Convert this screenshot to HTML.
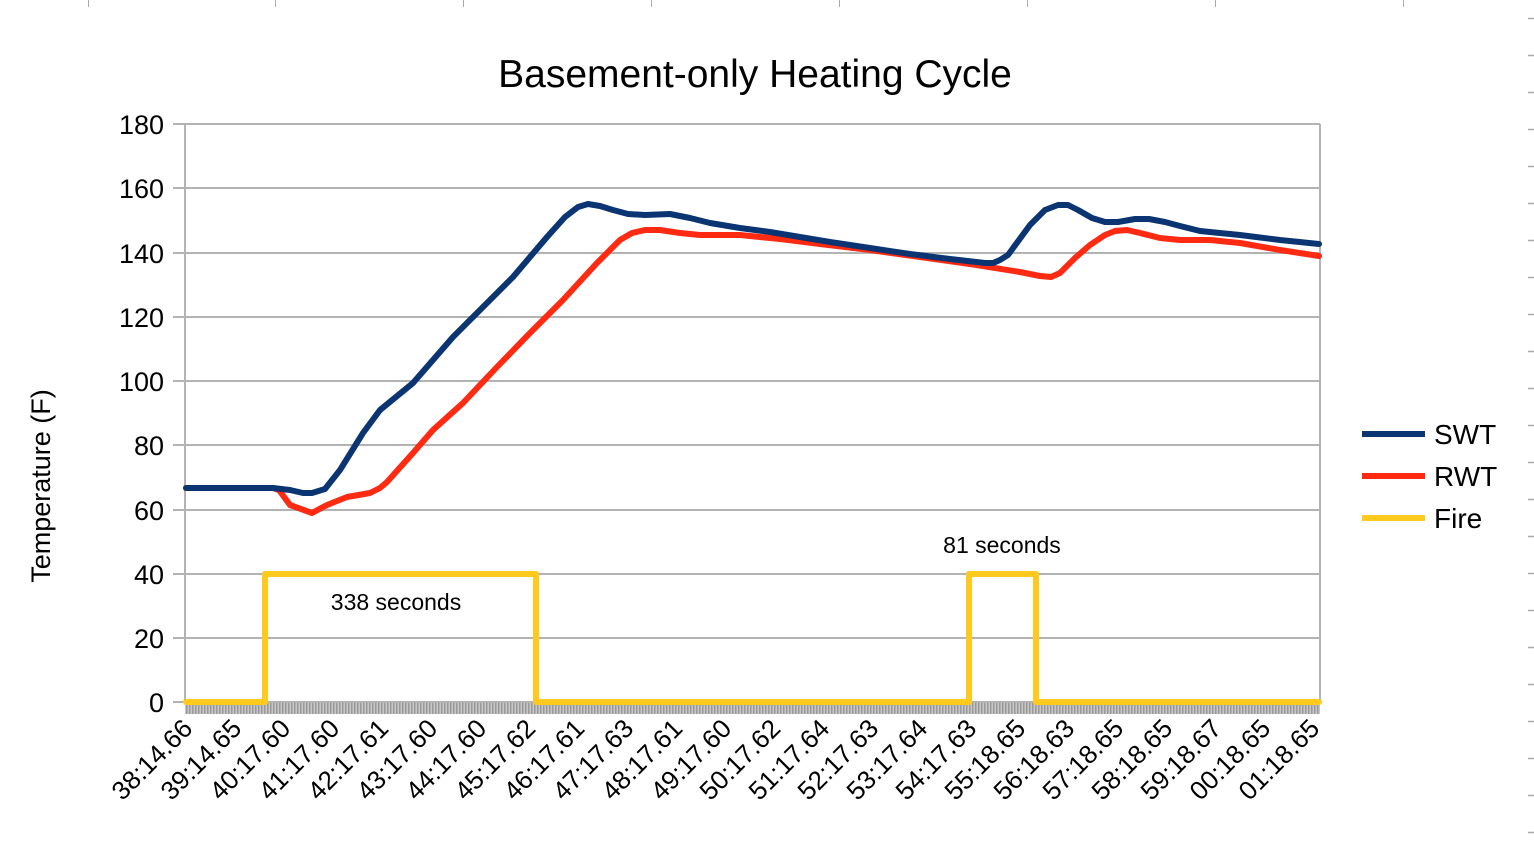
<!DOCTYPE html>
<html><head><meta charset="utf-8"><style>
body{margin:0;background:#fff;}
svg{display:block;font-family:"Liberation Sans",sans-serif;}
</style></head><body>
<svg width="1534" height="856" viewBox="0 0 1534 856" xmlns="http://www.w3.org/2000/svg">
<defs>
<pattern id="h" width="3" height="12" patternUnits="userSpaceOnUse"><rect width="3" height="12" fill="#c8c8c8"/><rect width="1.5" height="12" fill="#999"/></pattern>
</defs>
<g stroke="#aaa" stroke-width="1">
<line x1="88.5" y1="0" x2="88.5" y2="7"/><line x1="275.5" y1="0" x2="275.5" y2="7"/><line x1="463.5" y1="0" x2="463.5" y2="7"/><line x1="651.5" y1="0" x2="651.5" y2="7"/><line x1="839.5" y1="0" x2="839.5" y2="7"/><line x1="1027.5" y1="0" x2="1027.5" y2="7"/><line x1="1215.5" y1="0" x2="1215.5" y2="7"/><line x1="1403.5" y1="0" x2="1403.5" y2="7"/>
</g>
<g stroke="#b3b3b3" stroke-width="2">
<line x1="173" y1="124" x2="1320" y2="124"/><line x1="173" y1="188" x2="1320" y2="188"/><line x1="173" y1="253" x2="1320" y2="253"/><line x1="173" y1="317" x2="1320" y2="317"/><line x1="173" y1="381" x2="1320" y2="381"/><line x1="173" y1="445" x2="1320" y2="445"/><line x1="173" y1="510" x2="1320" y2="510"/><line x1="173" y1="574" x2="1320" y2="574"/><line x1="173" y1="638" x2="1320" y2="638"/><line x1="173" y1="702" x2="1320" y2="702"/>
<line x1="185" y1="124" x2="185" y2="702"/><line x1="1320" y1="124" x2="1320" y2="702"/>
</g>
<rect x="185" y="703" width="1135" height="11" fill="url(#h)"/>
<g font-size="27" text-anchor="end" fill="#000">
<text x="164" y="134">180</text><text x="164" y="198">160</text><text x="164" y="263">140</text><text x="164" y="327">120</text><text x="164" y="391">100</text><text x="164" y="455">80</text><text x="164" y="520">60</text><text x="164" y="584">40</text><text x="164" y="648">20</text><text x="164" y="712">0</text>
</g>
<text x="755" y="87" font-size="39" text-anchor="middle">Basement-only Heating Cycle</text>
<text transform="translate(50,486) rotate(-90)" font-size="27" text-anchor="middle">Temperature (F)</text>
<g fill="none" stroke-width="6" stroke-linejoin="round" stroke-linecap="round">
<polyline stroke="#ffc91e" points="186,702 265,702 265,574 536,574 536,702 969,702 969,574 1036,574 1036,702 1319,702"/>
<polyline stroke="#ff2a12" points="186,488 273,488 279,490 290,505 312,513 327,505 347,497 370,493 380,488 387,482 413,453 433,430 463,403 497,367 530,333 563,300 597,263 620,240 632,233 645,230 660,230 680,233 700,235 740,235 780,239 820,244 870,250 920,257 970,264 1020,272 1040,276 1051,277 1060,273 1075,258 1090,245 1105,235 1115,231 1127,230 1140,233 1160,238 1180,240 1210,240 1240,243 1280,250 1319,256"/>
<polyline stroke="#0a3572" points="186,488 273,488 290,490 303,493 312,493 325,489 340,470 363,433 380,410 413,383 453,337 480,310 513,277 547,237 565,217 578,207 588,204 600,206 613,210 628,214 645,215 670,214 690,218 710,223 740,228 770,232 800,237 830,242 870,248 910,254 950,259 985,263 993,263 1000,260 1008,255 1030,225 1045,210 1058,205 1068,205 1078,210 1092,218 1105,222 1118,222 1135,219 1149,219 1165,222 1180,226 1200,231 1240,235 1280,240 1319,244"/>
</g>
<g font-size="23" text-anchor="middle"><text x="396" y="610">338 seconds</text><text x="1002" y="553">81 seconds</text></g>
<g font-size="28">
<line x1="1362" y1="434" x2="1425" y2="434" stroke="#0a3572" stroke-width="6"/><text x="1434" y="444">SWT</text>
<line x1="1362" y1="476" x2="1425" y2="476" stroke="#ff2a12" stroke-width="6"/><text x="1434" y="486">RWT</text>
<line x1="1362" y1="518" x2="1425" y2="518" stroke="#ffc91e" stroke-width="6"/><text x="1434" y="528">Fire</text>
</g>
<g font-size="26" text-anchor="end">
<text transform="translate(194,730) rotate(-45)">38:14.66</text>
<text transform="translate(243,730) rotate(-45)">39:14.65</text>
<text transform="translate(292,730) rotate(-45)">40:17.60</text>
<text transform="translate(341,730) rotate(-45)">41:17.60</text>
<text transform="translate(390,730) rotate(-45)">42:17.61</text>
<text transform="translate(439,730) rotate(-45)">43:17.60</text>
<text transform="translate(488,730) rotate(-45)">44:17.60</text>
<text transform="translate(537,730) rotate(-45)">45:17.62</text>
<text transform="translate(586,730) rotate(-45)">46:17.61</text>
<text transform="translate(635,730) rotate(-45)">47:17.63</text>
<text transform="translate(684,730) rotate(-45)">48:17.61</text>
<text transform="translate(733,730) rotate(-45)">49:17.60</text>
<text transform="translate(782,730) rotate(-45)">50:17.62</text>
<text transform="translate(831,730) rotate(-45)">51:17.64</text>
<text transform="translate(880,730) rotate(-45)">52:17.63</text>
<text transform="translate(929,730) rotate(-45)">53:17.64</text>
<text transform="translate(978,730) rotate(-45)">54:17.63</text>
<text transform="translate(1027,730) rotate(-45)">55:18.65</text>
<text transform="translate(1076,730) rotate(-45)">56:18.63</text>
<text transform="translate(1125,730) rotate(-45)">57:18.65</text>
<text transform="translate(1174,730) rotate(-45)">58:18.65</text>
<text transform="translate(1223,730) rotate(-45)">59:18.67</text>
<text transform="translate(1272,730) rotate(-45)">00:18.65</text>
<text transform="translate(1321,730) rotate(-45)">01:18.65</text>
</g>
<g stroke="#aaa" stroke-width="1.5">
<line x1="1528" y1="18.5" x2="1534" y2="18.5"/><line x1="1528" y1="55.5" x2="1534" y2="55.5"/><line x1="1528" y1="92.5" x2="1534" y2="92.5"/><line x1="1528" y1="129.5" x2="1534" y2="129.5"/><line x1="1528" y1="166.5" x2="1534" y2="166.5"/><line x1="1528" y1="203.5" x2="1534" y2="203.5"/><line x1="1528" y1="240.5" x2="1534" y2="240.5"/><line x1="1528" y1="277.5" x2="1534" y2="277.5"/><line x1="1528" y1="314.5" x2="1534" y2="314.5"/><line x1="1528" y1="351.5" x2="1534" y2="351.5"/><line x1="1528" y1="388.5" x2="1534" y2="388.5"/><line x1="1528" y1="425.5" x2="1534" y2="425.5"/><line x1="1528" y1="462.5" x2="1534" y2="462.5"/><line x1="1528" y1="499.5" x2="1534" y2="499.5"/><line x1="1528" y1="536.5" x2="1534" y2="536.5"/><line x1="1528" y1="573.5" x2="1534" y2="573.5"/><line x1="1528" y1="610.5" x2="1534" y2="610.5"/><line x1="1528" y1="647.5" x2="1534" y2="647.5"/><line x1="1528" y1="684.5" x2="1534" y2="684.5"/><line x1="1528" y1="721.5" x2="1534" y2="721.5"/><line x1="1528" y1="758.5" x2="1534" y2="758.5"/><line x1="1528" y1="795.5" x2="1534" y2="795.5"/><line x1="1528" y1="832.5" x2="1534" y2="832.5"/>
</g>
</svg>
</body></html>
